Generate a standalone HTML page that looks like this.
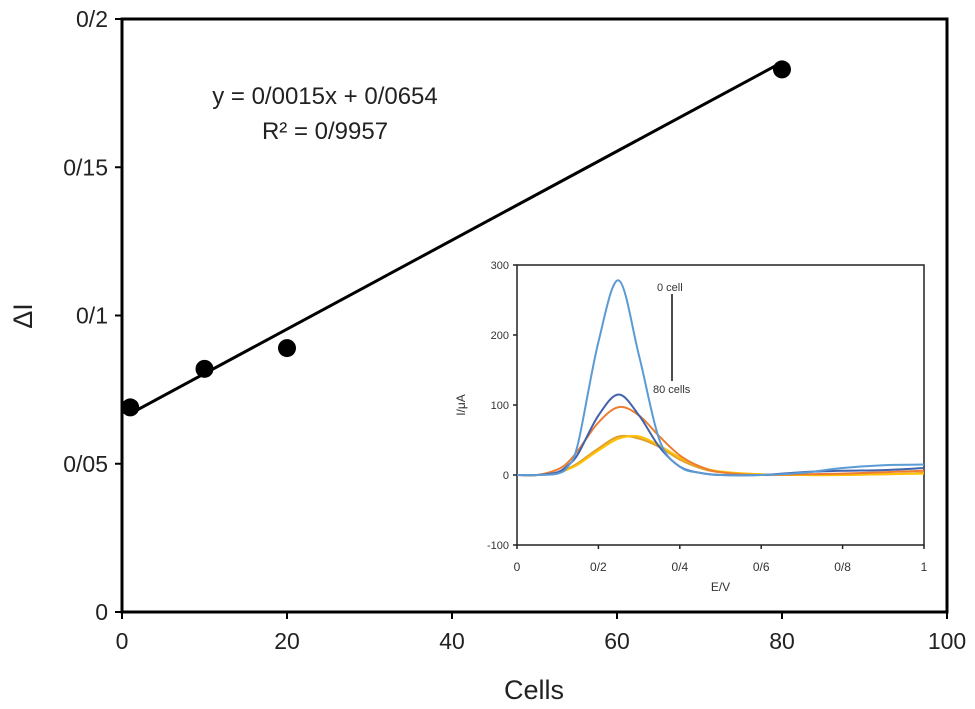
<!DOCTYPE html>
<html><head><meta charset="utf-8"><style>
body{margin:0;background:#fff;}
svg{display:block;font-family:"Liberation Sans",Arial,sans-serif;}
</style></head><body>
<svg id="chart" width="975" height="709" viewBox="0 0 975 709" xmlns="http://www.w3.org/2000/svg">
<g id="main"></g>
<g id="inset"></g>
</svg>
<script>
const cells = [1, 10, 20, 80];
const deltaI = [0.069, 0.082, 0.089, 0.183];
const fitSlope = 0.0015, fitIntercept = 0.0654;
const xTicks = [0, 20, 40, 60, 80, 100];
const yTicks = [0, 0.05, 0.1, 0.15, 0.2];
const yTickLabels = ["0", "0/05", "0/1", "0/15", "0/2"];

const E = [0, 0.05, 0.1, 0.125, 0.15, 0.2, 0.25, 0.3, 0.35, 0.4, 0.45, 0.5, 0.6, 0.7, 0.8, 0.9, 1.0];
const I0 = [0, 0, 2, 12, 45, 190, 278, 170, 50, 12, 3, 0, 0, 3, 10, 14, 15];
const I1 = [0, 0, 4, 14, 30, 85, 115, 85, 40, 12, 3, 0, 0, 4, 6, 7, 10];
const I2 = [0, 0, 8, 18, 35, 75, 97, 85, 55, 28, 12, 4, 0, 1, 2, 4, 6];
const I3 = [0, 0, 3, 8, 15, 35, 52, 55, 42, 25, 12, 5, 1, 0, 0, 1, 2];
const I4 = [0, 0, 3, 9, 17, 38, 55, 52, 40, 22, 10, 4, 1, 0, 0, 1, 3];
const insetXTicks = [0, 0.2, 0.4, 0.6, 0.8, 1];
const insetXLabels = ["0", "0/2", "0/4", "0/6", "0/8", "1"];
const insetYTicks = [-100, 0, 100, 200, 300];

const NS = "http://www.w3.org/2000/svg";
function mk(parent, tag, attrs, text){
  const el = document.createElementNS(NS, tag);
  for (const k in attrs) el.setAttribute(k, attrs[k]);
  if (text !== undefined) el.textContent = text;
  parent.appendChild(el);
  return el;
}
const X0=122, X1=947, YT=19, YB=612;
const sx = v => X0 + (v/100)*(X1-X0);
const sy = v => YB - (v/0.2)*(YB-YT);
const main = document.getElementById('main');
let e;
e = mk(main,'rect',{x:X0,y:YT,width:X1-X0,height:YB-YT,fill:'none',stroke:'#000','stroke-width':3});


xTicks.forEach(t=>{
  e = mk(main,'line',{x1:sx(t),x2:sx(t),y1:YB,y2:YB+7,stroke:'#000','stroke-width':2});
  
  
  e = mk(main,'text',{x:sx(t),y:YB+37,'text-anchor':'middle','font-size':23,fill:'#222'},String(t));
  
  
});
yTicks.forEach((t,i)=>{
  e = mk(main,'line',{x1:X0-7,x2:X0,y1:sy(t),y2:sy(t),stroke:'#000','stroke-width':2});
  
  
  e = mk(main,'text',{x:X0-14,y:sy(t)+8,'text-anchor':'end','font-size':23,fill:'#222'},yTickLabels[i]);
  
  
});
e = mk(main,'text',{x:534,y:699,'text-anchor':'middle','font-size':27,fill:'#222'},'Cells');


e = mk(main,'text',{x:0,y:0,'text-anchor':'middle','font-size':27,fill:'#222',transform:'translate(32,316) rotate(-90)'},'ΔI');


const xa = cells[0], xb = cells[cells.length-1];
e = mk(main,'line',{x1:sx(xa),y1:sy(fitSlope*xa+fitIntercept),x2:sx(xb),y2:sy(fitSlope*xb+fitIntercept),stroke:'#000','stroke-width':3});


cells.forEach((c,i)=>{
  e = mk(main,'circle',{cx:sx(c),cy:sy(deltaI[i]),r:9,fill:'#000'});
  
  
});
e = mk(main,'text',{x:325,y:104,'text-anchor':'middle','font-size':24,fill:'#222'},'y = 0/0015x + 0/0654');


e = mk(main,'text',{x:325,y:139,'text-anchor':'middle','font-size':24,fill:'#222'},'R² = 0/9957');



const inset = document.getElementById('inset');
const IX0=517, IX1=924, IYT=265, IYB=545;
const ix = v => IX0 + v*(IX1-IX0);
const iy = v => IYB - ((v+100)/400)*(IYB-IYT);
e = mk(inset,'rect',{x:IX0-40,y:IYT-8,width:IX1-IX0+52,height:IYB-IYT+62,fill:'#fff'});


e = mk(inset,'rect',{x:IX0,y:IYT,width:IX1-IX0,height:IYB-IYT,fill:'none',stroke:'#222','stroke-width':1.5});


insetXTicks.forEach((t,i)=>{
  e = mk(inset,'line',{x1:ix(t),x2:ix(t),y1:IYB,y2:IYB+4,stroke:'#222','stroke-width':1.5});
  
  
  e = mk(inset,'text',{x:ix(t),y:IYB+26,'text-anchor':'middle','font-size':12,fill:'#333'},insetXLabels[i]);
  
  
});
insetYTicks.forEach(t=>{
  e = mk(inset,'line',{x1:IX0-4,x2:IX0,y1:iy(t),y2:iy(t),stroke:'#222','stroke-width':1.5});
  
  
  e = mk(inset,'text',{x:IX0-8,y:iy(t)+4,'text-anchor':'end','font-size':11,fill:'#333'},String(t));
  
  
});
e = mk(inset,'text',{x:ix(0.5),y:IYB+46,'text-anchor':'middle','font-size':12,fill:'#333'},'E/V');


e = mk(inset,'text',{x:0,y:0,'text-anchor':'middle','font-size':12,fill:'#333',transform:`translate(${IX0-52},${iy(100)}) rotate(-90)`},'I/μA');


function smooth(xs, ys){
  const p = xs.map((x,i)=>[ix(x), iy(ys[i])]);
  let d = `M${p[0][0]},${p[0][1]}`;
  for (let i=0;i<p.length-1;i++){
    const a=p[Math.max(0,i-1)], b=p[i], c=p[i+1], dd=p[Math.min(p.length-1,i+2)];
    const c1=[b[0]+(c[0]-a[0])/6, b[1]+(c[1]-a[1])/6];
    const c2=[c[0]-(dd[0]-b[0])/6, c[1]-(dd[1]-b[1])/6];
    d += ` C${c1[0]},${c1[1]} ${c2[0]},${c2[1]} ${c[0]},${c[1]}`;
  }
  return d;
}
const series = [[I4,'#e0a030'],[I3,'#ffc000'],[I2,'#ed7d31'],[I1,'#4163ac'],[I0,'#5b9bd5']];
series.forEach(s=>{
  e = mk(inset,'path',{d:smooth(E,s[0]),fill:'none',stroke:s[1],'stroke-width':2});
  
  
});
e = mk(inset,'text',{x:657,y:291,'font-size':11,fill:'#333'},'0 cell');


e = mk(inset,'line',{x1:672,y1:294,x2:672,y2:381,stroke:'#111','stroke-width':1.5});


e = mk(inset,'text',{x:653,y:393,'font-size':11,fill:'#333'},'80 cells');


</script>
</body></html>
